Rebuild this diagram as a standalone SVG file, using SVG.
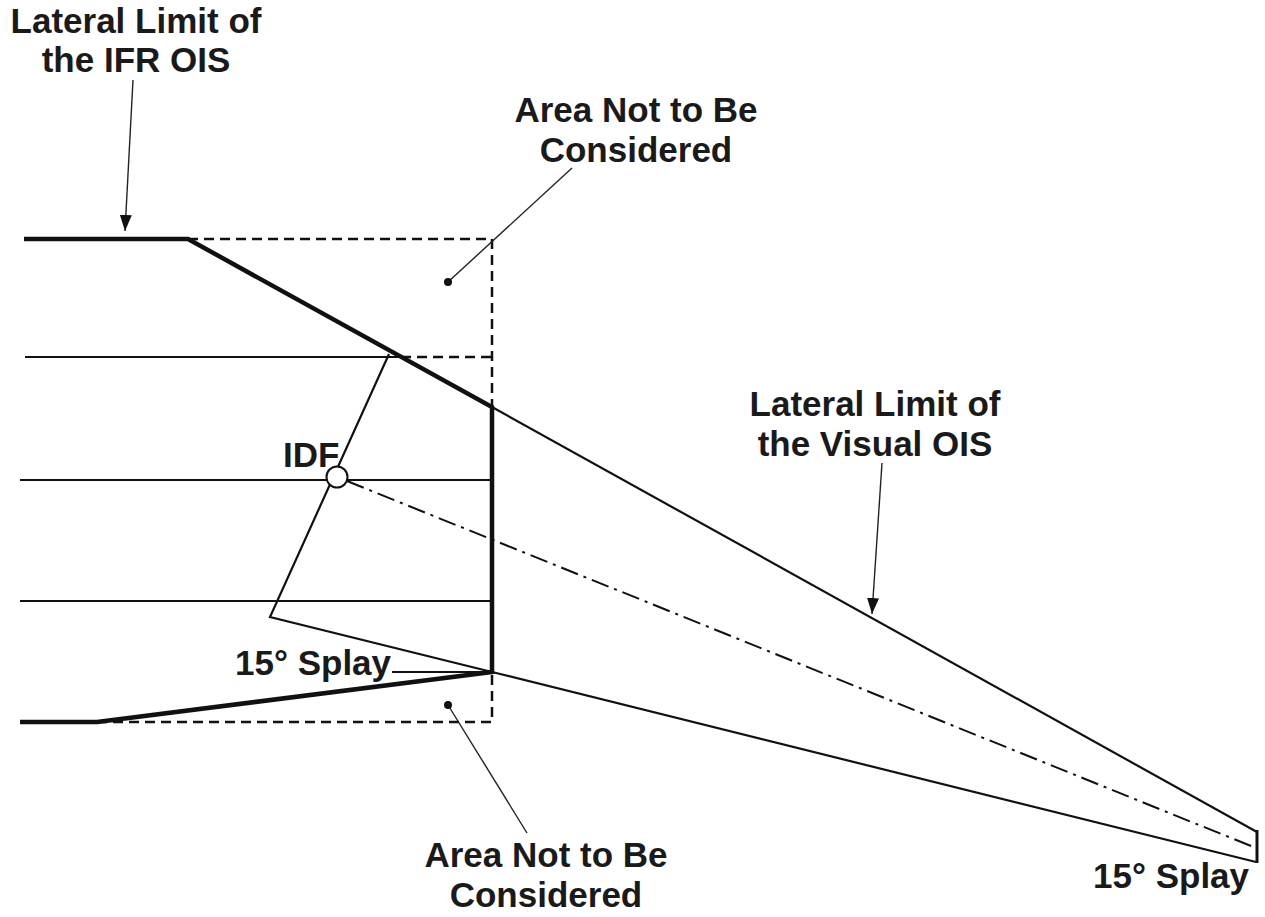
<svg xmlns="http://www.w3.org/2000/svg" width="1265" height="917" viewBox="0 0 1265 917">
<defs>
<marker id="arr" viewBox="0 0 16 12" refX="16" refY="6" markerWidth="16" markerHeight="12" markerUnits="userSpaceOnUse" orient="auto">
<path d="M0,0 L16,6 L0,12 Z" fill="#111"/>
</marker>
</defs>
<style>
.lbl{font-family:"Liberation Sans",Arial,sans-serif;font-weight:bold;font-size:35px;fill:#1a1a1a}
.thick{stroke:#111;stroke-width:4.5;fill:none;stroke-linejoin:miter}
.thin{stroke:#111;stroke-width:2.2;fill:none}
.dash{stroke:#111;stroke-width:2.5;fill:none;stroke-dasharray:10 6}
.dashdot{stroke:#111;stroke-width:2;fill:none;stroke-dasharray:18 6 3 6}
.lead{stroke:#222;stroke-width:1.4;fill:none}
</style>
<rect width="1265" height="917" fill="#fff"/>
<g id="areas">
<path class="dash" d="M188,239 H492 V407"/>
<path class="dash" d="M401,357 H492"/>
<path class="dash" d="M97,722 H492 V672"/>
</g>
<g id="grid">
<line class="thin" x1="25" y1="357" x2="401" y2="357"/>
<line class="thin" x1="20" y1="480" x2="492" y2="480"/>
<line class="thin" x1="20" y1="601" x2="492" y2="601"/>
</g>
<g id="visual-ois">
<path class="thin" d="M389,354 L270,617 L492,672 L1256,862"/>
<line class="thin" x1="492" y1="407" x2="1257" y2="832"/>
<line class="thick" x1="1257" y1="830" x2="1257" y2="863" style="stroke-width:3"/>
<line class="dashdot" x1="347" y1="481" x2="1256" y2="848"/>
</g>
<g id="ifr-ois">
<path class="thick" d="M24,239 H188 L492,407 V672 L97,722 H20"/>
</g>
<g id="idf">
<circle cx="337" cy="477" r="10.5" fill="#fff" stroke="#111" stroke-width="2"/>
<text class="lbl" x="283" y="467">IDF</text>
</g>
<g id="connectors">
<line class="lead" x1="133" y1="80" x2="125" y2="231" marker-end="url(#arr)"/>
<line class="lead" x1="882" y1="463" x2="872" y2="614" marker-end="url(#arr)"/>
<line class="lead" x1="572" y1="168" x2="448" y2="282"/>
<circle cx="448" cy="282" r="4" fill="#111"/>
<line class="lead" x1="448" y1="705" x2="527" y2="833"/>
<circle cx="448" cy="705" r="4" fill="#111"/>
<line class="thin" x1="392" y1="672" x2="492" y2="672"/>
</g>
<g id="label-ifr">
<text class="lbl" x="136" y="33" text-anchor="middle">Lateral Limit of</text>
<text class="lbl" x="136" y="72" text-anchor="middle">the IFR OIS</text>
</g>
<g id="label-area-top">
<text class="lbl" x="636" y="122" text-anchor="middle">Area Not to Be</text>
<text class="lbl" x="636" y="162" text-anchor="middle">Considered</text>
</g>
<g id="label-visual">
<text class="lbl" x="875" y="416" text-anchor="middle">Lateral Limit of</text>
<text class="lbl" x="875" y="456" text-anchor="middle">the Visual OIS</text>
</g>
<g id="label-area-bottom">
<text class="lbl" x="546" y="867" text-anchor="middle">Area Not to Be</text>
<text class="lbl" x="546" y="907" text-anchor="middle">Considered</text>
</g>
<g id="label-splay-left">
<text class="lbl" x="235" y="675">15° Splay</text>
</g>
<g id="label-splay-right">
<text class="lbl" x="1093" y="888">15° Splay</text>
</g>
</svg>
